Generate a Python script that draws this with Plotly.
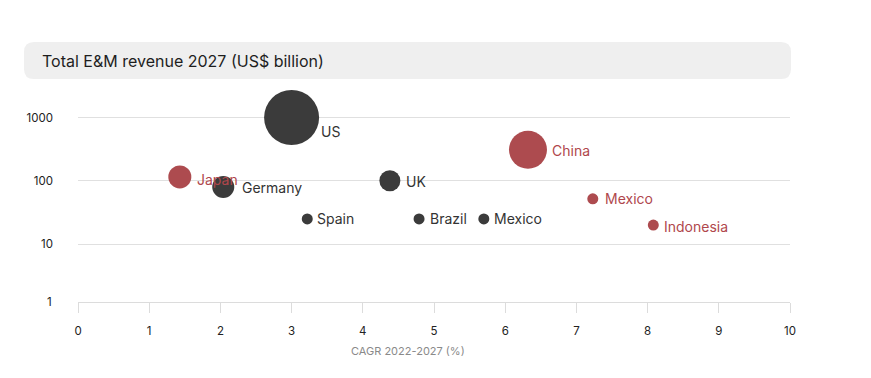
import plotly.graph_objects as go
import math

# ---- data ----
countries = ["US", "China", "Japan", "Germany", "UK", "Spain", "Brazil", "Mexico", "Mexico", "Indonesia"]
cagr = [3.0, 6.32, 1.43, 2.04, 4.38, 3.22, 4.79, 5.70, 7.23, 8.08]
revenue = [1000, 310, 115, 80, 100, 25, 25, 25, 52, 20]
bubble_px = [55, 38, 23, 22, 21, 11, 11, 11, 11, 11]
group = ["dark", "red", "red", "dark", "dark", "dark", "dark", "dark", "red", "red"]
x_ticks = [0, 1, 2, 3, 4, 5, 6, 7, 8, 9, 10]
y_ticks = [10, 100, 1000]
y_floor_label = "1"

DARK = "#3b3b3b"
RED = "#ad4b4f"
DARK_TXT = "#333333"
RED_TXT = "#b0474c"
FONT = "Inter, Roboto, sans-serif"

W, H = 871, 378
L, R, T, B = 78, 81, 88, 76

fig = go.Figure()
for g, col in (("dark", DARK), ("red", RED)):
    idx = [i for i, v in enumerate(group) if v == g]
    fig.add_trace(go.Scatter(
        x=[cagr[i] for i in idx], y=[revenue[i] for i in idx],
        mode="markers",
        marker=dict(size=[bubble_px[i] for i in idx], color=col, opacity=1, line=dict(width=0)),
        hoverinfo="text", text=[countries[i] for i in idx], showlegend=False,
    ))

# label offsets (px) relative to bubble centre
xshift = [27, 22, 15, 17, 14, 8, 9, 8, 10, 9]
yshift = [-14, -1, -3, -1, -1, 0, 0, 0, 0, -1]
for i, name in enumerate(countries):
    fig.add_annotation(
        x=cagr[i], y=math.log10(revenue[i]), xref="x", yref="y",
        text=name, showarrow=False, xanchor="left", yanchor="middle",
        xshift=xshift[i], yshift=yshift[i],
        font=dict(family=FONT, size=14, color=RED_TXT if group[i] == "red" else DARK_TXT),
    )

pw, ph = W - L - R, H - T - B
def px_x(p):
    return (p - L) / pw
def px_y(p):
    return (H - B - p) / ph

# title box (rounded)
x0, x1, y0, y1, rr = 24, 791, 42, 79, 10
path = (f"M {px_x(x0 + rr)},{px_y(y0)} L {px_x(x1 - rr)},{px_y(y0)} "
        f"Q {px_x(x1)},{px_y(y0)} {px_x(x1)},{px_y(y0 + rr)} "
        f"L {px_x(x1)},{px_y(y1 - rr)} Q {px_x(x1)},{px_y(y1)} {px_x(x1 - rr)},{px_y(y1)} "
        f"L {px_x(x0 + rr)},{px_y(y1)} Q {px_x(x0)},{px_y(y1)} {px_x(x0)},{px_y(y1 - rr)} "
        f"L {px_x(x0)},{px_y(y0 + rr)} Q {px_x(x0)},{px_y(y0)} {px_x(x0 + rr)},{px_y(y0)} Z")
fig.add_shape(type="path", path=path, xref="paper", yref="paper",
              fillcolor="#efefef", line=dict(width=0), layer="below")
fig.add_annotation(x=px_x(40), y=px_y(61), xref="paper", yref="paper",
                   text="Total E&M revenue 2027 (US$ billion)", showarrow=False,
                   xanchor="left", yanchor="middle",
                   font=dict(family=FONT, size=16, color="#1e1e1e"))
fig.add_annotation(x=px_x(408), y=px_y(351), xref="paper", yref="paper",
                   text="CAGR 2022-2027 (%)", showarrow=False,
                   xanchor="center", yanchor="middle",
                   font=dict(family=FONT, size=11, color="#8a8a8a"))
# bottom y label at the axis floor
fig.add_annotation(x=px_x(54), y=0, xref="paper", yref="paper",
                   text=y_floor_label, showarrow=False,
                   xanchor="right", yanchor="middle",
                   font=dict(family=FONT, size=11.5, color="#222"))

fig.update_layout(
    width=W, height=H,
    margin=dict(l=L, r=R, t=T, b=B, pad=0),
    paper_bgcolor="white", plot_bgcolor="white",
    font=dict(family=FONT, size=11, color="#222"),
    xaxis=dict(range=[0, 10], tickvals=x_ticks, ticktext=[str(v) for v in x_ticks],
               showgrid=False, zeroline=False, showline=True, linecolor="#dcdcdc", linewidth=1,
               ticks="outside", ticklen=10, tickcolor="#dcdcdc", tickwidth=1,
               ticklabelstandoff=8, tickfont=dict(size=11.5, color="#222")),
    yaxis=dict(type="log", range=[0.085, 3.466], tickvals=y_ticks, ticktext=[str(v) for v in y_ticks],
               showgrid=True, gridcolor="#e0e0e0", gridwidth=1, zeroline=False, showline=False,
               ticks="", ticklabelstandoff=24, tickfont=dict(size=11.5, color="#222")),
)

fig.write_html("out.html", config={"displayModeBar": False},
               post_script="document.body.style.margin='0';document.body.style.overflow='hidden';")
